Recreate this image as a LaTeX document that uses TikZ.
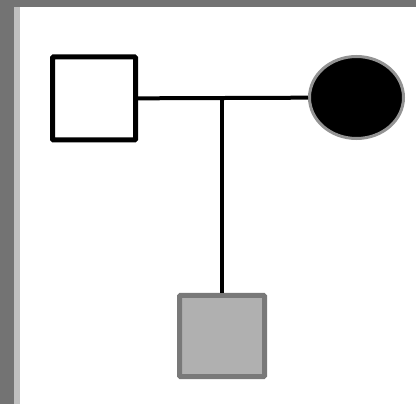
\documentclass[tikz,border=0pt]{standalone}
\usepackage{tikz}
\usetikzlibrary{shapes.geometric}

\begin{document}
\begin{tikzpicture}[
    x=1pt, y=-1pt,
    male/.style={
      draw=black, line width=5pt, fill=white, rounded corners=1pt,
      rectangle, minimum width=83pt, minimum height=83pt, inner sep=0pt
    },
    affected/.style={
      draw=gray!85, line width=3pt, fill=black,
      ellipse, minimum width=94pt, minimum height=82pt, inner sep=0pt
    },
    carrier/.style={
      draw=gray!95!black, line width=5pt, fill=gray!62, rounded corners=1pt,
      rectangle, minimum width=85pt, minimum height=81pt, inner sep=0pt
    },
    link/.style={line width=4pt, black}
  ]

    % frame
    \fill[gray!90!black] (0,0) rectangle (416,404);
    \fill[gray!50] (14,7) rectangle (20,404);
    \fill[white] (20,7) rectangle (416,404);
    \useasboundingbox (0,0) rectangle (416,404);

    \node[male] (father) at (94,98.5) {};
    \node[affected] (mother) at (356.5,97.5) {};
    \node[carrier] (child) at (222,336) {};

    \coordinate (union) at (222,98);

    \draw[link] (father) -- (mother);
    \draw[link] (union) -- (child);

  \end{tikzpicture}
\end{document}
